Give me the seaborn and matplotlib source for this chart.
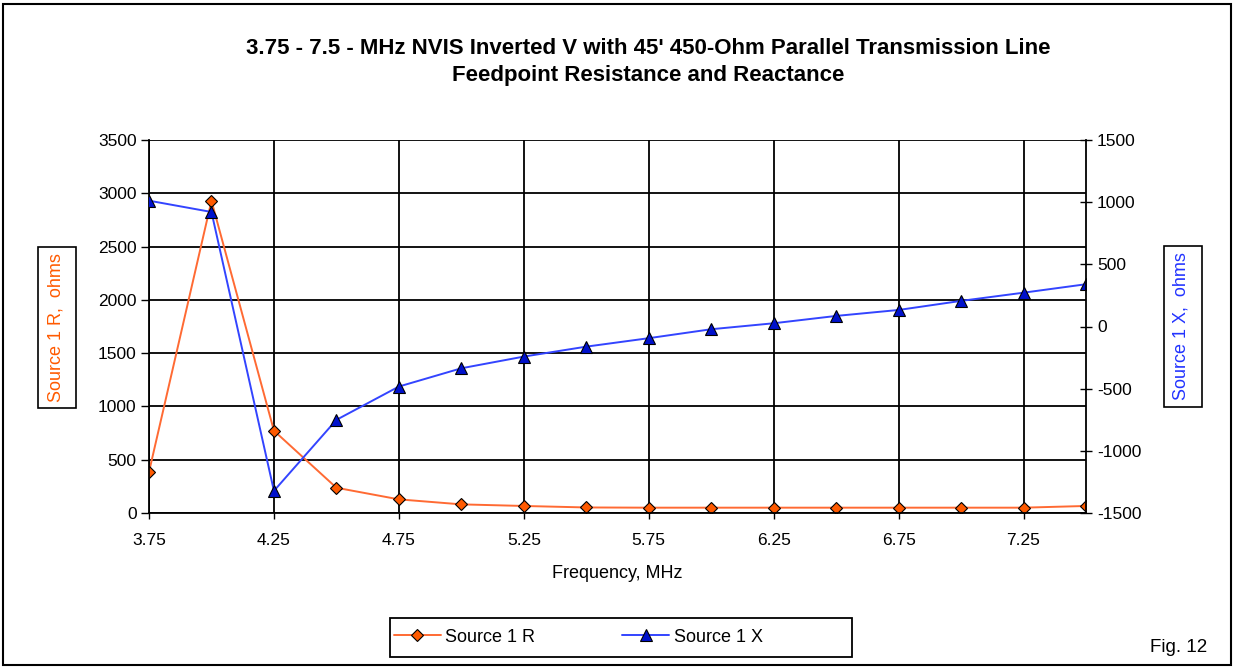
import numpy as np
import pandas as pd
import matplotlib
matplotlib.use("Agg")
import matplotlib.pyplot as plt
import seaborn as sns
from matplotlib.patches import Rectangle

freq = [3.75, 4.0, 4.25, 4.5, 4.75, 5.0, 5.25, 5.5, 5.75, 6.0, 6.25, 6.5, 6.75, 7.0, 7.25, 7.5]
res_r = [385, 2930, 772, 237, 128, 81, 66, 52, 50, 50, 50, 50, 50, 50, 50, 66]
react_x = [1012, 921, -1322, -751, -483, -336, -242, -162, -94, -22, 26, 85, 133, 206, 272, 340]
x_ticks = [3.75, 4.25, 4.75, 5.25, 5.75, 6.25, 6.75, 7.25]
x_tick_labels = ["3.75", "4.25", "4.75", "5.25", "5.75", "6.25", "6.75", "7.25"]
left_ticks = [0, 500, 1000, 1500, 2000, 2500, 3000, 3500]
right_ticks = [-1500, -1000, -500, 0, 500, 1000, 1500]

sns.set_style("white")
plt.rcParams['font.family'] = ['Liberation Sans', 'DejaVu Sans']
plt.rcParams['axes.unicode_minus'] = False
plt.rcParams['text.color'] = 'black'
plt.rcParams['axes.labelcolor'] = 'black'
plt.rcParams['xtick.color'] = 'black'
plt.rcParams['ytick.color'] = 'black'

df = pd.DataFrame({"freq": freq, "R": res_r, "X": react_x})

W, H = 1235, 668
fig = plt.figure(figsize=(W / 100, H / 100), dpi=100)
ax = fig.add_axes([149 / W, 1 - 513 / H, (1086 - 149) / W, (513 - 140) / H])
ax2 = ax.twinx()

orange_line = "#FF6A33"
orange_mk = "#FF5A00"
blue_line = "#3344FF"
blue_mk = "#0011CC"

sns.lineplot(data=df, x="freq", y="R", ax=ax, color=orange_line, lw=1.4,
             marker="D", markersize=6, markerfacecolor=orange_mk,
             markeredgecolor="black", markeredgewidth=0.8, label="Source 1 R", legend=False)
sns.lineplot(data=df, x="freq", y="X", ax=ax2, color=blue_line, lw=1.4,
             marker="^", markersize=8, markerfacecolor=blue_mk,
             markeredgecolor="black", markeredgewidth=0.8, label="Source 1 X", legend=False)

ax.set_xlim(3.75, 7.5)
ax.set_ylim(0, 3500)
ax2.set_ylim(-1500, 1500)
ax.set_xticks(x_ticks)
ax.set_xticklabels(x_tick_labels)
ax.set_yticks(left_ticks)
ax2.set_yticks(right_ticks)

for a in (ax, ax2):
    for s in a.spines.values():
        s.set_visible(False)
ax.spines['left'].set_visible(True)
ax.spines['bottom'].set_visible(True)
ax2.spines['right'].set_visible(True)
for sname in ('left', 'bottom'):
    ax.spines[sname].set_color('black')
    ax.spines[sname].set_linewidth(1.3)
ax2.spines['right'].set_color('black')
ax2.spines['right'].set_linewidth(1.3)

ax.grid(True, color='black', lw=1.3)
ax.set_axisbelow(True)
ax.tick_params(axis='x', direction='out', length=4.5, width=1, colors='black', labelsize=12.5, pad=10, bottom=True)
ax.tick_params(axis='y', direction='out', length=6, width=1, colors='black', labelsize=12.5, pad=3, left=True)
ax2.tick_params(axis='y', direction='inout', length=8, width=1, colors='black', labelsize=12.5, pad=4, right=True)

ax.set_xlabel("Frequency, MHz", fontsize=13, labelpad=12, color='black')
ax.set_ylabel("")
ax2.set_ylabel("")

# axis title boxes
fig.patches.append(Rectangle((38 / W, 1 - 408 / H), 38 / W, 161 / H, transform=fig.transFigure,
                             fill=True, fc='white', ec='black', lw=1.2))
fig.patches.append(Rectangle((1164 / W, 1 - 407 / H), 38 / W, 161 / H, transform=fig.transFigure,
                             fill=True, fc='white', ec='black', lw=1.2))
fig.text(56 / W, 1 - 328 / H, "Source 1 R,  ohms", rotation=90, color="#FF5A00",
         fontsize=13, ha='center', va='center')
fig.text(1181 / W, 1 - 326 / H, "Source 1 X,  ohms", rotation=90, color="#2233FF",
         fontsize=13, ha='center', va='center')

fig.text(648 / W, 1 - 49 / H, "3.75 - 7.5 - MHz NVIS Inverted V with 45' 450-Ohm Parallel Transmission Line",
         fontsize=16, fontweight='bold', ha='center', va='center', color='black')
fig.text(648 / W, 1 - 76 / H, "Feedpoint Resistance and Reactance",
         fontsize=16, fontweight='bold', ha='center', va='center', color='black')

# legend
fig.patches.append(Rectangle((390 / W, 1 - 657 / H), 462 / W, 39 / H, transform=fig.transFigure,
                             fill=True, fc='white', ec='black', lw=1.3))
h1, l1 = ax.get_legend_handles_labels()
h2, l2 = ax2.get_legend_handles_labels()
leg = fig.legend(h1 + h2, l1 + l2, loc='center left', bbox_to_anchor=(394 / W, 1 - 637 / H),
                 ncol=2, frameon=False, fontsize=13, columnspacing=4.8,
                 handlelength=2.6, handletextpad=0.25, borderpad=0, borderaxespad=0)
for t in leg.get_texts():
    t.set_color('black')

fig.text(1179 / W, 1 - 647 / H, "Fig. 12", fontsize=13.5, ha='center', va='center', color='black')

fig.patches.append(Rectangle((3 / W, 3 / H), 1228 / W, 661 / H, transform=fig.transFigure,
                             fill=False, ec='black', lw=1.5))

fig.savefig("out.png", dpi=100)
